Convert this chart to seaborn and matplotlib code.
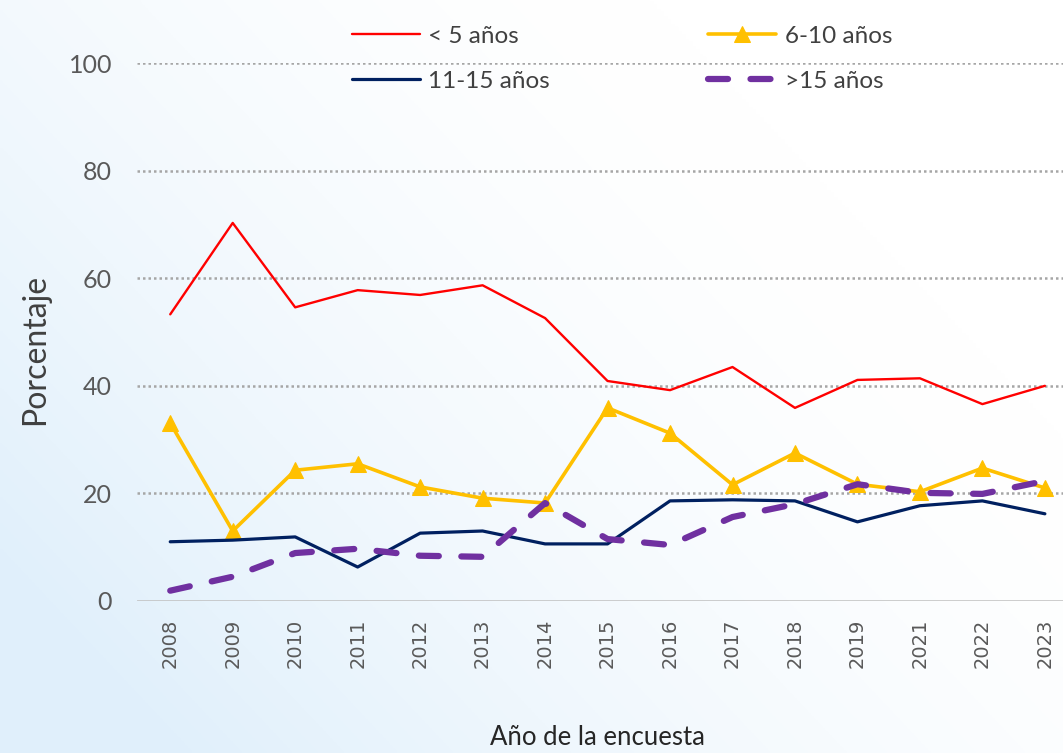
import matplotlib
matplotlib.use("Agg")
import matplotlib.pyplot as plt
import numpy as np
import pandas as pd
import seaborn as sns

YEARS = ["2008", "2009", "2010", "2011", "2012", "2013", "2014", "2015",
         "2016", "2017", "2018", "2019", "2021", "2022", "2023"]
MENOS_5 = [53.3, 70.3, 54.6, 57.8, 56.9, 58.7, 52.6, 40.9, 39.2, 43.5, 35.9, 41.1, 41.4, 36.6, 40.0]
DE_6_10 = [33.1, 13.0, 24.3, 25.5, 21.2, 19.1, 18.2, 35.9, 31.2, 21.6, 27.5, 21.7, 20.3, 24.7, 21.0]
DE_11_15 = [11.0, 11.3, 11.9, 6.3, 12.6, 13.0, 10.6, 10.6, 18.6, 18.8, 18.6, 14.7, 17.7, 18.6, 16.2]
MAS_15 = [1.9, 4.5, 8.9, 9.7, 8.4, 8.2, 18.2, 11.5, 10.4, 15.6, 18.0, 21.7, 20.1, 19.9, 22.3]
Y_TICKS = [0, 20, 40, 60, 80, 100]

sns.set_theme(style="white")
plt.rcParams["font.family"] = ["Lato", "DejaVu Sans"]

fig = plt.figure(figsize=(10.63, 7.53), dpi=100)

# fondo degradado suave (azul claro abajo a la izquierda)
bg = fig.add_axes([0, 0, 1, 1], zorder=-5)
gx, gy = np.meshgrid(np.linspace(0, 1, 300), np.linspace(0, 1, 300))
t = np.clip(1.15 - (gx * 0.9 + (1 - gy) * 0.6), 0, 1) ** 1.6
c0 = np.array([1.0, 1.0, 1.0])
c1 = np.array([0.88, 0.94, 0.985])
img = c0 + (c1 - c0) * t[..., None]
bg.imshow(img, aspect="auto", origin="upper", extent=[0, 1, 0, 1])
bg.axis("off")

ax = fig.add_axes([0.129, 0.202, 0.871, 0.714])
ax.set_facecolor("none")

x = np.arange(len(YEARS))
sns.lineplot(x=x, y=MENOS_5, ax=ax, color="#ff0000", linewidth=1.7, label="< 5 años")
sns.lineplot(x=x, y=DE_6_10, ax=ax, color="#ffc000", linewidth=2.6, marker="^",
             markersize=12, markeredgecolor="#ffc000", label="6-10 años")
sns.lineplot(x=x, y=DE_11_15, ax=ax, color="#002060", linewidth=2.3, label="11-15 años")
sns.lineplot(x=x, y=MAS_15, ax=ax, color="#7030a0", linewidth=4.5, label=">15 años",
             dashes=False)
ax.lines[-1].set_dashes((3.2, 3.6))
ax.lines[-1].set_dash_capstyle("round")

ax.set_xlim(-0.53, 14.29)
ax.set_ylim(0, 100)
ax.set_yticks(Y_TICKS)
ax.set_xticks(x)
ax.set_xticklabels(YEARS, rotation=90, fontfamily="DejaVu Sans", fontsize=14, color="#595959")
ax.tick_params(axis="y", labelsize=18, labelcolor="#595959", length=0, pad=18)
ax.tick_params(axis="x", length=0, pad=13)

for v in Y_TICKS[1:]:
    ax.axhline(v, color="#a6a6a6", linestyle=(0, (1, 1.2)), linewidth=1.8, zorder=0)
ax.axhline(0, color="#bfbfbf", linewidth=1.8, zorder=0)
for s in ax.spines.values():
    s.set_visible(False)
ax.set_xlabel("")
ax.set_ylabel("")

handles, labels = ax.get_legend_handles_labels()
ax.get_legend().remove()
order = [0, 2, 1, 3]
fig.legend([handles[i] for i in order], [labels[i] for i in order],
           loc="upper left", bbox_to_anchor=(0.331, 0.966), ncol=2, frameon=False,
           fontsize=17.5, handlelength=2.8, handletextpad=0.35, columnspacing=6.5,
           labelspacing=1.0, borderpad=0, borderaxespad=0, labelcolor="#404040")

fig.text(0.033, 0.5365, "Porcentaje", rotation=90, ha="center", va="center",
         fontsize=23, color="#404040")
fig.text(0.562, 0.004, "Año de la encuesta", ha="center", va="bottom",
         fontsize=18.5, color="#262626")

fig.savefig("out.png", dpi=100)
